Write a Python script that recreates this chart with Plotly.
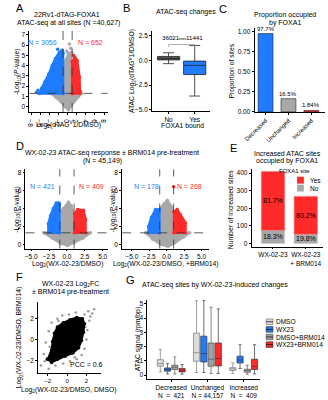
import plotly.graph_objects as go

W, H = 328, 400
FONT = "Liberation Sans, Arial, sans-serif"
BLUE = "#1f7bff"
RED = "#ff2b2b"
GRAY = "#a8a8a8"

# ---------------- DATA ----------------
# Panel A volcano (region outlines, data units)
a_gray_x = [-3.6, -2.5, -1.5, -0.5, 0.2, 0.8, 1.6, 2.4, 3.0, 1.0, 1.0, 0.6, 0.2, -0.3, -1.0, -1.0]
a_gray_y = [1.3, 0.9, 0.5, 0.0, -0.3, 0.1, 0.6, 1.0, 1.3, 1.3, 4.2, 5.0, 5.2, 4.6, 4.0, 1.3]
a_blue_x = [-1.0, -6.2, -5.7, -5.0, -4.1, -3.4, -2.66, -1.8, -1.2, -1.0]
a_blue_y = [1.3, 1.3, 1.8, 2.4, 3.2, 4.0, 4.7, 5.3, 5.5, 5.2]
a_red_x = [1.0, 1.0, 1.6, 2.1, 2.6, 2.7]
a_red_y = [1.3, 4.4, 4.8, 4.5, 2.9, 1.3]
a_gray_pts_x = [0.7, 0.4, 0.9, -0.2]
a_gray_pts_y = [5.7, 6.1, 5.3, 5.4]
a_blue_pts_x = [-6.8, -6.5, -2.2]
a_blue_pts_y = [1.4, 1.6, 5.6]
a_red_pts_x = [2.8, 1.3]
a_red_pts_y = [1.5, 5.0]
a_n_down, a_n_up = "N = 3056", "N = 652"

# Panel B boxplot stats
b_cats = ["No", "Yes"]
b_q1 = [0.05, -1.43]
b_med = [0.2, -0.5]
b_q3 = [0.4, -0.07]
b_lo = [-0.33, -3.6]
b_hi = [0.77, 1.5]
b_counts = ["36021", "11441"]

# Panel C
c_cats = ["Decreased", "Unchanged", "Increased"]
c_vals = [0.977, 0.165, 0.0184]
c_labels = ["97.7%", "16.5%", "1.84%"]

# Panel D left (WX-02-23 / DMSO)
dl_gray_x = [-3.2, -2.0, -0.8, 0.1, 1.0, 2.2, 3.3, 1.05, 1.05, 0.6, 0.2, -0.5, -1.05, -1.05]
dl_gray_y = [1.3, 0.7, 0.1, -0.1, 0.2, 0.7, 1.3, 1.3, 3.0, 4.3, 4.7, 4.0, 3.5, 1.3]
dl_blue_x = [-1.05, -2.6, -2.6, -2.3, -1.9, -1.5, -1.1, -1.05]
dl_blue_y = [1.3, 1.3, 2.3, 3.2, 4.0, 4.6, 4.6, 4.4]
dl_red_x = [1.05, 1.05, 1.5, 2.3, 2.6, 2.6]
dl_red_y = [1.3, 3.4, 3.9, 3.8, 2.8, 1.3]
dl_n_down, dl_n_up = "N = 421", "N = 409"

# Panel D right (WX-02-23 / DMSO, +BRM014)
dr_gray_x = [-3.0, -2.0, -0.8, 0.2, 1.2, 2.4, 3.3, 1.05, 1.05, 0.7, 0.1, -0.4, -1.05, -1.05]
dr_gray_y = [1.3, 0.6, 0.0, -0.2, 0.2, 0.8, 1.3, 1.3, 3.4, 4.2, 4.9, 4.5, 3.9, 1.3]
dr_blue_x = [-1.05, -2.6, -2.6, -2.2, -1.6, -1.05]
dr_blue_y = [1.3, 1.3, 2.0, 3.0, 3.9, 3.9]
dr_red_x = [1.05, 1.05, 1.5, 2.0, 2.7, 2.7]
dr_red_y = [1.3, 3.6, 3.9, 3.3, 2.4, 1.3]
dr_red_pts_x = [1.0]
dr_red_pts_y = [6.4]
dr_n_down, dr_n_up = "N = 178", "N = 268"

# Panel E stacked bars
e_cats = ["WX-02-23", "WX-02-23<br>+ BRM014"]
e_no = [75, 53]
e_yes = [334, 215]
e_no_lab = ["18.3%", "19.8%"]
e_yes_lab = ["81.7%", "80.2%"]

# Panel F scatter: dense core outline + sparse points
f_core_x = [-2.0, -1.6, -1.5, -1.3, -1.0, -0.4, 0.3, 1.0, 1.6, 1.8, 1.7, 1.5, 1.2, 0.6, -0.2, -1.0, -1.6]
f_core_y = [-1.9, -1.0, -0.2, 0.6, 1.2, 1.6, 1.9, 2.1, 2.0, 1.5, 0.7, -0.1, -0.8, -1.3, -1.6, -1.9, -2.2]
f_pts_x = [-2.7, -2.4, -2.2, -1.9, -1.6, -1.0, -0.5, 0.2, 0.9, 1.8, 2.2, 2.6, 2.3, 2.1, 2.0,
           1.8, 1.5, 1.0, 0.3, -0.4, -1.2, -1.9, -2.3, 2.8, -1.8, 1.9, -2.1, 2.4, 0.8, -0.9]
f_pts_y = [-2.5, -1.4, -0.3, 0.8, 1.6, 2.0, 2.3, 2.4, 2.6, 2.4, 2.7, 2.5, 1.8, 0.9, 0.0,
           -0.9, -1.5, -1.9, -2.1, -2.3, -2.5, -2.8, -2.1, 2.9, -0.7, 1.2, -1.8, 2.2, -1.7, 1.8]
f_pcc = "PCC = 0.6"

# Panel G boxplots (per condition, per category)
g_cats = ["Decreased<br>N  =  421", "Unchanged<br>N = 44,157", "Increased<br>N  =  409"]
g_conditions = ["DMSO", "WX23", "DMSO+BRM014", "WX23+BRM014"]
g_q1 = [[0.63, 0.98, 0.33], [0.28, 0.93, 0.86], [0.40, 0.63, 0.21], [0.23, 0.65, 0.40]]
g_med = [[0.81, 1.58, 0.44], [0.40, 1.51, 1.07], [0.56, 1.12, 0.33], [0.35, 1.16, 0.63]]
g_q3 = [[1.09, 2.95, 0.53], [0.51, 2.74, 1.33], [0.70, 2.26, 0.42], [0.47, 2.26, 1.12]]
g_lo = [[0.23, 0.19, 0.12], [0.09, 0.19, 0.47], [0.09, 0.12, 0.07], [0.07, 0.12, 0.09]]
g_hi = [[1.81, 5.23, 0.86], [0.81, 5.23, 2.14], [1.28, 4.77, 0.70], [0.74, 4.65, 2.14]]

# ---------------- HELPERS ----------------
def dx(l, r):
    return [l / W, r / W]

def dy(t, b):
    return [1 - b / H, 1 - t / H]

def px(x):
    return x / W

def py(y):
    return 1 - y / H

fig = go.Figure()
annots = []
shapes = []

def axis(domain, rng, anchor, **kw):
    d = dict(domain=domain, range=rng, anchor=anchor, showline=True, linecolor="black",
             linewidth=0.8, ticks="outside", ticklen=2, tickwidth=0.8, tickcolor="black",
             showgrid=False, zeroline=False, tickfont=dict(size=6.5, family=FONT, color="black"),
             fixedrange=True)
    d.update(kw)
    return d

def text(x, y, s, size=7, color="black", xanchor="center", yanchor="middle", angle=0, xref="paper", yref="paper"):
    annots.append(dict(x=x if xref != "paper" else px(x), y=y if yref != "paper" else py(y),
                       xref=xref, yref=yref, text=s, showarrow=False,
                       font=dict(size=size, color=color, family=FONT),
                       xanchor=xanchor, yanchor=yanchor, textangle=angle))

def poly(xs, ys, color, xa, ya, lw=2.5):
    fig.add_trace(go.Scatter(x=xs + xs[:1], y=ys + ys[:1], mode="lines+markers", fill="toself",
                             fillcolor=color, line=dict(color=color, width=lw),
                             marker=dict(size=3.5, color=color), xaxis=xa, yaxis=ya,
                             hoverinfo="skip", showlegend=False))

def pts(xs, ys, color, xa, ya, size=3.5, opacity=1):
    fig.add_trace(go.Scatter(x=xs, y=ys, mode="markers", marker=dict(size=size, color=color, opacity=opacity),
                             xaxis=xa, yaxis=ya, hoverinfo="skip", showlegend=False))

def volcano_lines(xa, ya):
    for v in (-1, 1):
        shapes.append(dict(type="line", xref=xa, yref=ya + " domain", x0=v, x1=v, y0=0, y1=1,
                           line=dict(color="#333", width=0.8, dash="dash")))
    shapes.append(dict(type="line", xref=xa + " domain", yref=ya, x0=0, x1=1, y0=1.3, y1=1.3,
                       line=dict(color="#333", width=0.8, dash="dash")))

layout = {}

# ---------------- Panel A ----------------
poly(a_gray_x, a_gray_y, GRAY, "x", "y")
poly(a_blue_x, a_blue_y, BLUE, "x", "y")
poly(a_red_x, a_red_y, RED, "x", "y")
pts(a_gray_pts_x, a_gray_pts_y, GRAY, "x", "y")
pts(a_blue_pts_x, a_blue_pts_y, BLUE, "x", "y")
pts(a_red_pts_x, a_red_pts_y, RED, "x", "y")
volcano_lines("x", "y")
layout["xaxis"] = axis(dx(19, 100), [-8.4, 8.8], "y", tickvals=[-8, -6, -4, -2, 0, 2, 4, 6, 8])
layout["yaxis"] = axis(dy(30, 112), [-0.5, 7.4], "x", tickvals=list(range(0, 8)))
text(3, 7, "A", size=11, xanchor="left")
text(58, 14, "22Rv1-dTAG-FOXA1")
text(60, 22, "ATAC-seq at all sites (N =40,627)")
text(33, 42, a_n_down, color=BLUE, size=7)
text(82, 42, a_n_up, color=RED, size=7)
text(60, 125, "Log<sub>2</sub>(dTAG<sup>V</sup>1/DMSO)", size=6.8)
text(7, 71, "-Log<sub>10</sub>(<i>P</i>-value)", angle=-90, size=6.8)

# ---------------- Panel B ----------------
b_fill = ["#5a5a5a", BLUE]
for i in range(2):
    fig.add_trace(go.Box(x=[i], q1=[b_q1[i]], median=[b_med[i]], q3=[b_q3[i]],
                         lowerfence=[b_lo[i]], upperfence=[b_hi[i]], width=0.85,
                         fillcolor=b_fill[i], line=dict(color="#222", width=0.8),
                         xaxis="x2", yaxis="y2", showlegend=False, hoverinfo="skip"))
layout["xaxis2"] = axis(dx(146, 206), [-0.63, 1.59], "y2", tickvals=[0, 1], ticktext=b_cats)
layout["yaxis2"] = axis(dy(30, 111), [-5.1, 3.0], "x2", tickvals=[2.5, 0, -2.5, -5], tickformat=".1f")
shapes.append(dict(type="path", xref="x2", yref="y2",
                   path="M 0,1.35 L 0,1.6 L 1,1.6 L 1,1.35", line=dict(color="#999", width=0.8)))
text(0.08, 2.35, b_counts[0], size=6.2, xref="x2", yref="y2")
text(1.0, 2.35, b_counts[1], size=6.2, xref="x2", yref="y2")
text(0.52, 2.05, "****", size=4.5, xref="x2", yref="y2")
text(114, 7, "B", size=11, xanchor="left")
text(181, 11, "ATAC-seq changes")
text(177, 126, "FOXA1 bound", size=6.8)
text(125, 71, "ATAC Log<sub>2</sub>(dTAG<sup>V</sup>1/DMSO)", angle=-90, size=6.8)

# ---------------- Panel C ----------------
fig.add_trace(go.Bar(x=[0, 1, 2], y=c_vals, width=0.65, marker=dict(color=[BLUE, GRAY, RED],
                     line=dict(color="#222", width=0.6)), xaxis="x3", yaxis="y3",
                     showlegend=False, hoverinfo="skip"))
for i, v in enumerate(c_vals):
    text(i, v, c_labels[i], size=6, xref="x3", yref="y3", yanchor="bottom")
layout["xaxis3"] = axis(dx(252, 325), [-0.48, 2.6], "y3", tickvals=[0, 1, 2], ticktext=c_cats,
                        tickangle=-45, tickfont=dict(size=6, family=FONT, color="black"))
layout["yaxis3"] = axis(dy(27, 112), [0, 1.05], "x3", tickvals=[0, 0.25, 0.5, 0.75, 1.0], tickformat=".2f")
text(213, 8, "C", size=11, xanchor="left")
text(283, 14, "Proportion occupied")
text(283, 22, "by FOXA1")
text(229, 71, "Proportion of sites", angle=-90, size=6.8)

# ---------------- Panel D ----------------
poly(dl_gray_x, dl_gray_y, GRAY, "x4", "y4")
poly(dl_blue_x, dl_blue_y, BLUE, "x4", "y4")
poly(dl_red_x, dl_red_y, RED, "x4", "y4")
volcano_lines("x4", "y4")
layout["xaxis4"] = axis(dx(15, 100), [-5.8, 5.7], "y4", tickvals=[-5, -2.5, 0, 2.5, 5], tickformat=".1f")
layout["yaxis4"] = axis(dy(170, 250), [-0.44, 8.35], "x4", tickvals=[0, 2, 4, 6, 8])

poly(dr_gray_x, dr_gray_y, GRAY, "x5", "y5")
poly(dr_blue_x, dr_blue_y, BLUE, "x5", "y5")
poly(dr_red_x, dr_red_y, RED, "x5", "y5")
pts(dr_red_pts_x, dr_red_pts_y, RED, "x5", "y5")
volcano_lines("x5", "y5")
layout["xaxis5"] = axis(dx(115, 205), [-6.4, 6.1], "y5", tickvals=[-5, -2.5, 0, 2.5, 5], tickformat=".1f")
layout["yaxis5"] = axis(dy(170, 250), [-0.44, 8.35], "x5", tickvals=[0, 2, 4, 6, 8])

text(3, 146, "D", size=11, xanchor="left")
text(105, 154, "WX-02-23 ATAC-seq response ± BRM014 pre-treatment")
text(95, 162, "(N = 45,149)")
text(33, 187, dl_n_down, color=BLUE)
text(83, 187, dl_n_up, color=RED)
text(140, 187, dr_n_down, color=BLUE)
text(185, 187, dr_n_up, color=RED)
text(58, 266, "Log<sub>2</sub>(WX-02-23/DMSO)", size=6.8)
text(160, 266, "Log<sub>2</sub>(WX-02-23/DMSO, +BRM014)", size=6.8)
text(6, 210, "-Log<sub>10</sub>(<i>P</i>-value)", angle=-90, size=6.8)
text(105, 210, "-Log<sub>10</sub>(<i>P</i>-value)", angle=-90, size=6.8)

# ---------------- Panel E ----------------
fig.add_trace(go.Bar(x=[0, 1], y=e_no, width=0.71, marker=dict(color=GRAY, line=dict(color="#c8c8c8", width=0.6)),
                     xaxis="x6", yaxis="y6", showlegend=False, hoverinfo="skip"))
fig.add_trace(go.Bar(x=[0, 1], y=e_yes, base=e_no, width=0.71, marker=dict(color=RED, line=dict(color="#ff6b6b", width=0.6)),
                     xaxis="x6", yaxis="y6", showlegend=False, hoverinfo="skip"))
for i in range(2):
    text(i, e_no[i] / 2, e_no_lab[i], xref="x6", yref="y6")
    text(i, e_no[i] + e_yes[i] / 2, e_yes_lab[i], xref="x6", yref="y6")
layout["xaxis6"] = axis(dx(249, 323), [-0.65, 1.53], "y6", tickvals=[0, 1], ticktext=e_cats)
layout["yaxis6"] = axis(dy(170, 248), [-17, 422], "x6", tickvals=[0, 100, 200, 300, 400])
text(225, 148, "E", size=11, xanchor="left")
text(286, 154, "Increased ATAC sites")
text(286, 162, "occupied by FOXA1")
text(228, 210, "Number of increased sites", angle=-90, size=6.8)
text(293, 172, "FOXA1 site", size=6)
for j, (lab, col) in enumerate([("Yes", RED), ("No", GRAY)]):
    yy = 181 + j * 8
    shapes.append(dict(type="rect", xref="paper", yref="paper", x0=px(296), x1=px(303),
                       y0=py(yy + 3.5), y1=py(yy - 3.5), fillcolor=col, line=dict(width=0)))
    text(307, yy, lab, size=6.5, xanchor="left")

# ---------------- Panel F ----------------
pts(f_pts_x, f_pts_y, "#555", "x7", "y7", size=2.5, opacity=0.6)
poly(f_core_x, f_core_y, "black", "x7", "y7", lw=2)
layout["xaxis7"] = axis(dx(28, 93), [-3.0, 3.5], "y7", tickvals=[-2, 0, 2],
                        tickfont=dict(size=6, family=FONT, color="black"))
layout["yaxis7"] = axis(dy(304, 376), [-3.24, 3.6], "x7", tickvals=[-2, 0, 2])
text(3, 279, "F", size=11, xanchor="left")
text(62, 286, "WX-02-23 Log<sub>2</sub>FC")
text(62, 294, "± BRM014 pre-treatment")
text(78, 367, f_pcc)
text(60, 393, "Log<sub>2</sub>(WX-02-23/DMSO, DMSO)", size=6.8)
text(8, 340, "Log<sub>2</sub>(WX-02-23/DMSO, BRM014)", angle=-90, size=6.8)

# ---------------- Panel G ----------------
g_fill = ["#dcdcdc", BLUE, "#a0a0a0", RED]
g_line = ["#777", "#333", "#555", "#333"]
offs = [-0.3, -0.1, 0.1, 0.3]
for k in range(4):
    fig.add_trace(go.Box(x=[i + offs[k] for i in range(3)], q1=g_q1[k], median=g_med[k], q3=g_q3[k],
                         lowerfence=g_lo[k], upperfence=g_hi[k], width=0.17,
                         fillcolor=g_fill[k], line=dict(color=g_line[k], width=0.7),
                         xaxis="x8", yaxis="y8", showlegend=False, hoverinfo="skip"))
layout["xaxis8"] = axis(dx(141, 258), [-0.66, 2.46], "y8", tickvals=[0, 1, 2], ticktext=g_cats,
                        tickfont=dict(size=6.5, family=FONT, color="black"))
layout["yaxis8"] = axis(dy(302, 382), [-0.28, 5.28], "x8", tickvals=[0, 1, 2, 3, 4, 5])
text(117, 282, "G", size=11, xanchor="left")
text(133, 287, "ATAC-seq sites by WX-02-23-induced changes", xanchor="left")
text(131, 342, "ATAC signal (rpm/bp)", angle=-90, size=6.8)
for k, lab in enumerate(g_conditions):
    yy = 324 + k * 7.7
    shapes.append(dict(type="rect", xref="paper", yref="paper", x0=px(264), x1=px(271),
                       y0=py(yy + 2.8), y1=py(yy - 2.8), fillcolor=g_fill[k], line=dict(color=g_line[k], width=0.7)))
    shapes.append(dict(type="line", xref="paper", yref="paper", x0=px(264), x1=px(271),
                       y0=py(yy), y1=py(yy), line=dict(color="#111", width=0.8)))
    text(272, yy, lab, size=6.5, xanchor="left")

fig.update_layout(width=W, height=H, margin=dict(l=0, r=0, t=0, b=0), paper_bgcolor="white",
                  plot_bgcolor="white", barmode="overlay", showlegend=False,
                  font=dict(family=FONT, size=6.5, color="black"),
                  annotations=annots, shapes=shapes, **layout)
fig.write_html("out.html", config=dict(displayModeBar=False))
